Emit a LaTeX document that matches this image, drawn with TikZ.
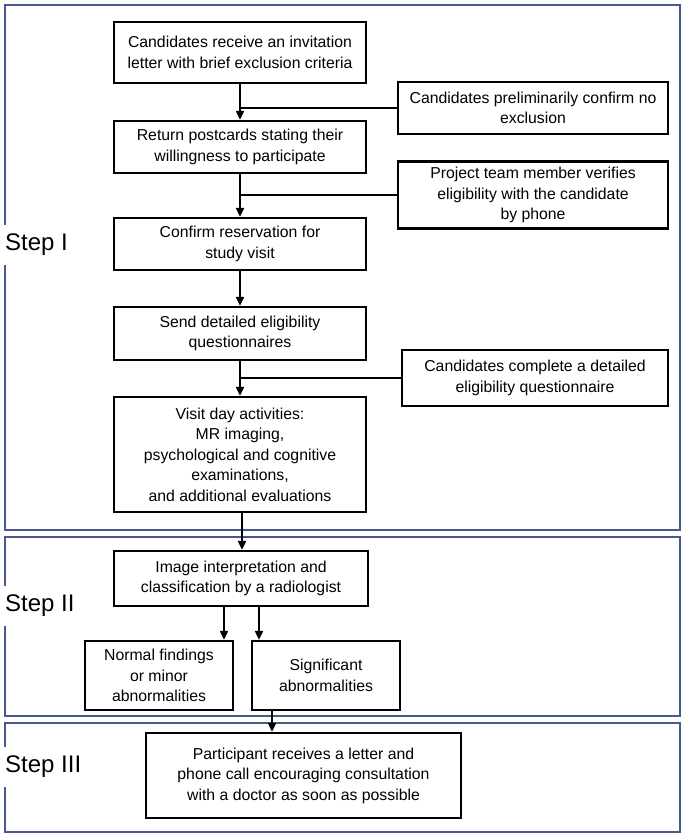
\documentclass[tikz,border=0pt]{standalone}
\usepackage{fontspec}
\setmainfont{Liberation Sans}
\usepackage{tikz}
\usetikzlibrary{arrows.meta}
\definecolor{framec}{RGB}{70,90,142}

\begin{document}
\begin{tikzpicture}
  [x=1pt,y=-1pt,
   box/.style={draw=black, line width=2.3pt, align=center, inner sep=2pt,
     font=\fontsize{15.8}{20.5}\selectfont},
   frame/.style={draw=framec, line width=1.8pt},
   steplabel/.style={fill=white, anchor=west, inner xsep=2pt, inner ysep=9pt,
     font=\fontsize{24}{26}\selectfont},
   arr/.style={line width=2pt, -{Triangle[length=9pt,width=8pt]}},
   link/.style={line width=2pt}]
  \useasboundingbox (0,0) rectangle (686,837);

  \draw[frame] (5,5) rectangle (680,530);
  \draw[frame] (5,537) rectangle (680,716);
  \draw[frame] (5,723) rectangle (680,832);
  \node[steplabel] (l1) at (3,245) {Step I};
  \node[steplabel] (l2) at (3,606) {Step II};
  \node[steplabel] (l3) at (3,767) {Step III};

  \node[box, minimum width=252, minimum height=61] (b1) at (240,52.5)
    {Candidates receive an invitation\\letter with brief exclusion criteria};
  \node[box, minimum width=270, minimum height=52] (s1) at (533,108)
    {Candidates preliminarily confirm no\\exclusion};
  \node[box, minimum width=252, minimum height=52] (b2) at (240,147)
    {Return postcards stating their\\willingness to participate};
  \node[box, minimum width=270, minimum height=67] (s2) at (533,195)
    {Project team member verifies\\eligibility with the candidate\\by phone};
  \node[box, minimum width=252, minimum height=52] (b3) at (240,244)
    {Confirm reservation for\\study visit};
  \node[box, minimum width=252, minimum height=53] (b4) at (240,333.5)
    {Send detailed eligibility\\questionnaires};
  \node[box, minimum width=266, minimum height=56] (s3) at (535,378)
    {Candidates complete a detailed\\eligibility questionnaire};
  \node[box, minimum width=252, minimum height=115] (b5) at (240,454.5)
    {Visit day activities:\\MR imaging,\\psychological and cognitive\\examinations,\\and additional evaluations};
  \node[box, minimum width=254, minimum height=55] (b6) at (241,578.5)
    {Image interpretation and\\classification by a radiologist};
  \node[box, minimum width=148, minimum height=69] (b7) at (159,675.5)
    {Normal findings\\or minor\\abnormalities};
  \node[box, minimum width=148, minimum height=69] (b8) at (326,675.5)
    {Significant\\abnormalities};
  \node[box, minimum width=315, minimum height=85] (b9) at (303.5,775.5)
    {Participant receives a letter and\\phone call encouraging consultation\\with a doctor as soon as possible};

  % side boxes join the main flow
  \coordinate (j1) at (b1.south |- s1.west);
  \coordinate (j2) at (b2.south |- s2.west);
  \coordinate (j3) at (b4.south |- s3.west);
  \foreach \from/\to in {s1/j1,s2/j2,s3/j3}
    \draw[link] (\from.west) -- (\to);

  \foreach \from/\to in {b1/b2,b2/b3,b3/b4,b4/b5}
    \draw[arr] (\from) -- (\to);
  \draw[arr] (b5.south -| 242,0) -- (b6.north -| 242,0);
  \draw[arr] (b6.south -| 224,0) -- (b7.north -| 224,0);
  \draw[arr] (b6.south -| 259,0) -- (b8.north -| 259,0);
  \draw[arr] (b8.south -| 272,0) -- (b9.north -| 272,0);
\end{tikzpicture}
\end{document}
